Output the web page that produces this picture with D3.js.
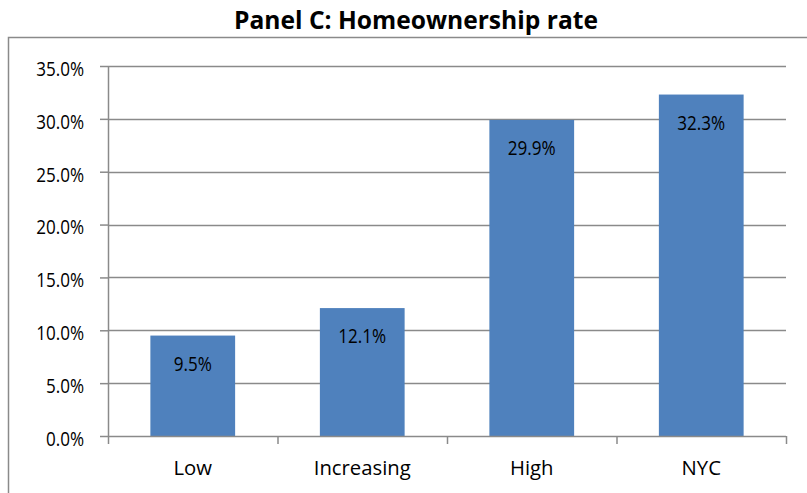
<!DOCTYPE html>
<html>
<head>
<meta charset="utf-8">
<script src="https://cdn.jsdelivr.net/npm/d3@7"></script>
<style>
  html, body { margin: 0; padding: 0; background: #fff; }
  svg { display: block; font-family: "Open Sans", "Noto Sans", sans-serif; }
</style>
</head>
<body>
<svg id="chart" width="807" height="493"></svg>
<script>
// Homeownership rate by neighbourhood group
const categories = ["Low", "Increasing", "High", "NYC"];
const rates = [9.5, 12.1, 29.9, 32.3];
const yTicks = [0, 5, 10, 15, 20, 25, 30, 35];
const title = "Panel C: Homeownership rate";

const svg = d3.select("#chart");
const W = 807, H = 493;
const margin = { left: 108, right: 21, top: 66, bottom: 57 };
const gridColor = "#8a8a8a";
const numSize = 19.5;     // size of numeric labels
const numSquash = 0.875;  // narrower digits for numeric labels

// outer frame of the chart area
svg.append("rect")
  .attr("x", 8.5).attr("y", 37.5)
  .attr("width", W + 20).attr("height", H)
  .attr("fill", "none").attr("stroke", gridColor).attr("stroke-width", 1.5);

svg.append("text")
  .attr("x", 416).attr("y", 29)
  .attr("text-anchor", "middle")
  .attr("font-size", 24.6).attr("font-weight", "bold")
  .attr("fill", "#000")
  .text(title);

const x = d3.scaleBand()
  .domain(categories)
  .range([margin.left, W - margin.right])
  .paddingInner(0.5).paddingOuter(0.25);

const y = d3.scaleLinear()
  .domain([0, 35])
  .range([H - margin.bottom, margin.top]);

// horizontal gridlines
svg.append("g").selectAll("line").data(yTicks.filter(d => d > 0)).join("line")
  .attr("x1", margin.left).attr("x2", W - margin.right)
  .attr("y1", d => Math.round(y(d)) + 0.5).attr("y2", d => Math.round(y(d)) + 0.5)
  .attr("stroke", gridColor).attr("stroke-width", 1.5);

// y axis
const yAxis = svg.append("g")
  .attr("transform", `translate(${margin.left},0)`)
  .call(d3.axisLeft(y).tickValues(yTicks).tickSize(8)
    .tickFormat(d => d.toFixed(1) + "%"));
yAxis.select(".domain").attr("stroke", gridColor).attr("stroke-width", 1.5)
  .attr("d", `M0.5,${y(35)}V${y(0) + 0.5}`);
yAxis.selectAll(".tick line").attr("stroke", gridColor).attr("stroke-width", 1.5);
yAxis.selectAll(".tick text")
  .attr("font-size", numSize).attr("fill", "#000")
  .attr("font-family", "'Open Sans', sans-serif")
  .attr("text-anchor", "end")
  .attr("transform", `scale(${numSquash},1)`)
  .attr("x", -24 / numSquash)
  .attr("dy", "0.48em");

// bars
svg.append("g").selectAll("rect").data(rates).join("rect")
  .attr("x", (d, i) => x(categories[i]))
  .attr("y", d => y(d))
  .attr("width", x.bandwidth())
  .attr("height", d => y(0) - y(d))
  .attr("fill", "#4f81bd");

// value labels inside bar tops
svg.append("g").selectAll("text").data(rates).join("text")
  .attr("transform", (d, i) =>
    `translate(${x(categories[i]) + x.bandwidth() / 2},${y(d) + 35}) scale(${numSquash},1)`)
  .attr("text-anchor", "middle")
  .attr("font-size", numSize).attr("fill", "#000")
  .text(d => d.toFixed(1) + "%");

// x axis with category dividers
const step = x.step();
const xAxisG = svg.append("g").attr("transform", `translate(0,${y(0)})`);
xAxisG.append("line")
  .attr("x1", margin.left).attr("x2", W - margin.right)
  .attr("y1", 0.5).attr("y2", 0.5)
  .attr("stroke", gridColor).attr("stroke-width", 1.5);
const bounds = d3.range(categories.length + 1).map(i => margin.left + i * step);
xAxisG.selectAll("line.div").data(bounds).join("line").attr("class", "div")
  .attr("x1", d => d + 0.5).attr("x2", d => d + 0.5)
  .attr("y1", 0).attr("y2", 8)
  .attr("stroke", gridColor).attr("stroke-width", 1.5);
xAxisG.selectAll("text").data(categories).join("text")
  .attr("x", d => x(d) + x.bandwidth() / 2)
  .attr("y", 39)
  .attr("text-anchor", "middle")
  .attr("font-size", 20.3).attr("fill", "#000")
  .text(d => d);
</script>
</body>
</html>
